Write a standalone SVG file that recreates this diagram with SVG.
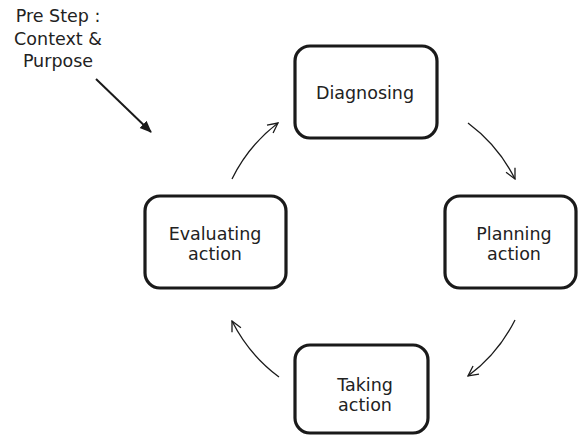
<svg xmlns="http://www.w3.org/2000/svg" width="578" height="437" viewBox="0 0 578 437">
<defs>
<style>
.box{fill:#fff;stroke:#1a1a1a;stroke-width:3.2}
.t{font-family:"DejaVu Sans",Verdana,sans-serif;font-size:17.5px;fill:#222;text-anchor:middle}
.c{fill:none;stroke:#1a1a1a;stroke-width:1.3}
</style>
<marker id="open" viewBox="0 0 12 12" refX="11" refY="6" markerWidth="12" markerHeight="12" markerUnits="userSpaceOnUse" orient="auto">
<polyline points="1,1 11,6 1,11" fill="none" stroke="#1a1a1a" stroke-width="1.3"/>
</marker>
<marker id="solid" viewBox="0 0 12 12" refX="11" refY="6" markerWidth="12" markerHeight="12" markerUnits="userSpaceOnUse" orient="auto">
<polygon points="0,1 12,6 0,11" fill="#1a1a1a"/>
</marker>
</defs>
<g id="pre-step">
<text class="t" x="58" y="22">Pre Step :</text>
<text class="t" x="58" y="45">Context &amp;</text>
<text class="t" x="58" y="67">Purpose</text>
</g>
<g id="connectors">
<line x1="96" y1="79" x2="151" y2="132" stroke="#1a1a1a" stroke-width="2" marker-end="url(#solid)"/>
<path class="c" d="M468,123 A158,158 0 0 1 515,179" marker-end="url(#open)"/>
<path class="c" d="M515,320 A158,158 0 0 1 468,376" marker-end="url(#open)"/>
<path class="c" d="M279,377 A158,158 0 0 1 232,321" marker-end="url(#open)"/>
<path class="c" d="M232,179 A158,158 0 0 1 278,123" marker-end="url(#open)"/>
</g>
<g id="diagnosing">
<rect class="box" x="295" y="46" width="142" height="92" rx="15"/>
<text class="t" x="365" y="99">Diagnosing</text>
</g>
<g id="planning">
<rect class="box" x="445" y="196" width="131" height="92" rx="15"/>
<text class="t" x="514" y="240">Planning</text>
<text class="t" x="514" y="260">action</text>
</g>
<g id="taking">
<rect class="box" x="295" y="345" width="133" height="88" rx="15"/>
<text class="t" x="365" y="391">Taking</text>
<text class="t" x="365" y="411">action</text>
</g>
<g id="evaluating">
<rect class="box" x="145" y="196" width="141" height="92" rx="15"/>
<text class="t" x="215" y="240">Evaluating</text>
<text class="t" x="215" y="260">action</text>
</g>
</svg>
